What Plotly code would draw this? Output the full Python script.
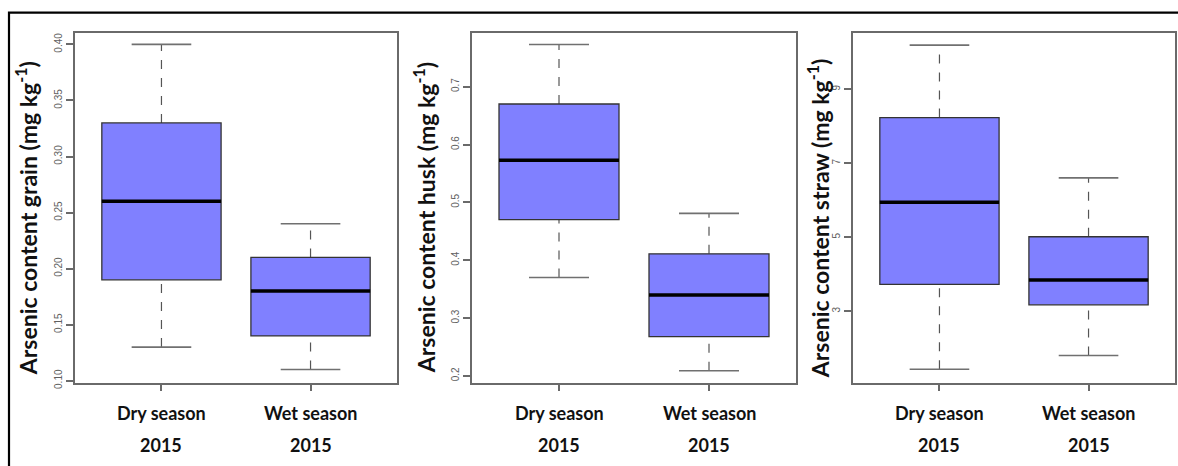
import plotly.graph_objects as go

W, H = 1178, 466

categories = ["Dry season", "Wet season"]
year_label = "2015"

# box statistics: [lower whisker, Q1, median, Q3, upper whisker]
grain_dry = [0.130, 0.190, 0.260, 0.330, 0.400]
grain_wet = [0.110, 0.140, 0.180, 0.210, 0.240]
husk_dry = [0.370, 0.470, 0.573, 0.670, 0.773]
husk_wet = [0.209, 0.268, 0.340, 0.411, 0.481]
straw_dry = [1.43, 3.72, 5.94, 8.23, 10.19]
straw_wet = [1.80, 3.17, 3.84, 5.01, 6.60]

grain_ticks = [0.10, 0.15, 0.20, 0.25, 0.30, 0.35, 0.40]
grain_ticktext = ["0.10", "0.15", "0.20", "0.25", "0.30", "0.35", "0.40"]
husk_ticks = [0.2, 0.3, 0.4, 0.5, 0.6, 0.7]
husk_ticktext = ["0.2", "0.3", "0.4", "0.5", "0.6", "0.7"]
straw_ticks = [3, 5, 7, 9]
straw_ticktext = ["3", "5", "7", "9"]

titles = ["Arsenic content grain (mg kg<sup>-1</sup>)",
          "Arsenic content husk (mg kg<sup>-1</sup>)",
          "Arsenic content straw (mg kg<sup>-1</sup>)"]

panels = [
    dict(stats=[grain_dry, grain_wet], ticks=grain_ticks, ticktext=grain_ticktext,
         yrange=[0.0984, 0.4103], px=(75, 397), title_x=26),
    dict(stats=[husk_dry, husk_wet], ticks=husk_ticks, ticktext=husk_ticktext,
         yrange=[0.1886, 0.793], px=(472, 796), title_x=424),
    dict(stats=[straw_dry, straw_wet], ticks=straw_ticks, ticktext=straw_ticktext,
         yrange=[1.07, 10.52], px=(853, 1175), title_x=818),
]

top_px, bot_px = 33.3, 387.5


def fx(p):
    return p / W


def fy(p):
    return 1 - p / H


fig = go.Figure()
shapes = []
annotations = []
frame_col = "#6a6a6a"
font_fam = "Lato, Open Sans, sans-serif"

for i, pan in enumerate(panels):
    n = "" if i == 0 else str(i + 1)
    xa, ya = "x" + n, "y" + n
    fig.layout["xaxis" + n] = dict(
        domain=[fx(pan["px"][0]), fx(pan["px"][1])], range=[0.42, 2.58],
        anchor=ya, showgrid=False, zeroline=False, showline=True, mirror=True,
        linecolor=frame_col, linewidth=1.5, tickvals=[1, 2],
        ticks="outside", ticklen=7, tickcolor=frame_col, tickwidth=1.5,
        showticklabels=False)
    fig.layout["yaxis" + n] = dict(
        domain=[fy(bot_px), fy(top_px)], range=pan["yrange"], anchor=xa,
        showgrid=False, zeroline=False, showline=True, mirror=True,
        linecolor=frame_col, linewidth=1.5, tickvals=pan["ticks"],
        ticktext=pan["ticktext"], ticks="outside", ticklen=7, tickcolor=frame_col,
        tickwidth=1.5, tickangle=-90,
        tickfont=dict(size=10, color="#606060", family="Liberation Sans, Arial"))
    for j, s in enumerate(pan["stats"]):
        c = j + 1
        lw, q1, med, q3, uw = s
        # whiskers
        shapes.append(dict(type="line", xref=xa, yref=ya, x0=c, x1=c, y0=q3, y1=uw,
                           line=dict(color="#555555", width=1.2, dash="dash")))
        shapes.append(dict(type="line", xref=xa, yref=ya, x0=c, x1=c, y0=lw, y1=q1,
                           line=dict(color="#555555", width=1.2, dash="dash")))
        # caps
        for v in (lw, uw):
            shapes.append(dict(type="line", xref=xa, yref=ya, x0=c - 0.2, x1=c + 0.2,
                               y0=v, y1=v, line=dict(color="#707070", width=1.6)))
        # box
        shapes.append(dict(type="rect", xref=xa, yref=ya, x0=c - 0.4, x1=c + 0.4,
                           y0=q1, y1=q3, fillcolor="#8080ff",
                           line=dict(color="#333333", width=1.3)))
        # median
        shapes.append(dict(type="line", xref=xa, yref=ya, x0=c - 0.4, x1=c + 0.4,
                           y0=med, y1=med, line=dict(color="#000000", width=3.5)))
        # x labels
        annotations.append(dict(xref=xa, yref="paper", x=c, y=fy(418),
                                text="<b>" + categories[j] + "</b>", showarrow=False,
                                xanchor="center", yanchor="middle",
                                font=dict(size=18, color="#111111", family=font_fam)))
        annotations.append(dict(xref=xa, yref="paper", x=c, y=fy(451),
                                text="<b>" + year_label + "</b>", showarrow=False,
                                xanchor="center", yanchor="middle",
                                font=dict(size=18, color="#111111", family=font_fam)))
    annotations.append(dict(xref="paper", yref="paper", x=fx(pan["title_x"]),
                            y=fy(221), text="<b>" + titles[i] + "</b>",
                            textangle=-90, showarrow=False, xanchor="center",
                            yanchor="middle",
                            font=dict(size=23, color="#111111", family=font_fam)))

# outer black frame
shapes.append(dict(type="rect", xref="paper", yref="paper", x0=fx(9), x1=fx(1190),
                   y0=fy(480), y1=fy(12.7), line=dict(color="#000000", width=2.2),
                   fillcolor="rgba(0,0,0,0)"))

fig.update_layout(width=W, height=H, margin=dict(l=0, r=0, t=0, b=0),
                  paper_bgcolor="white", plot_bgcolor="white",
                  shapes=shapes, annotations=annotations, showlegend=False)

fig.write_html("out.html", config={"displayModeBar": False},
               post_script="document.body.style.margin='0';document.body.style.overflow='hidden';")
